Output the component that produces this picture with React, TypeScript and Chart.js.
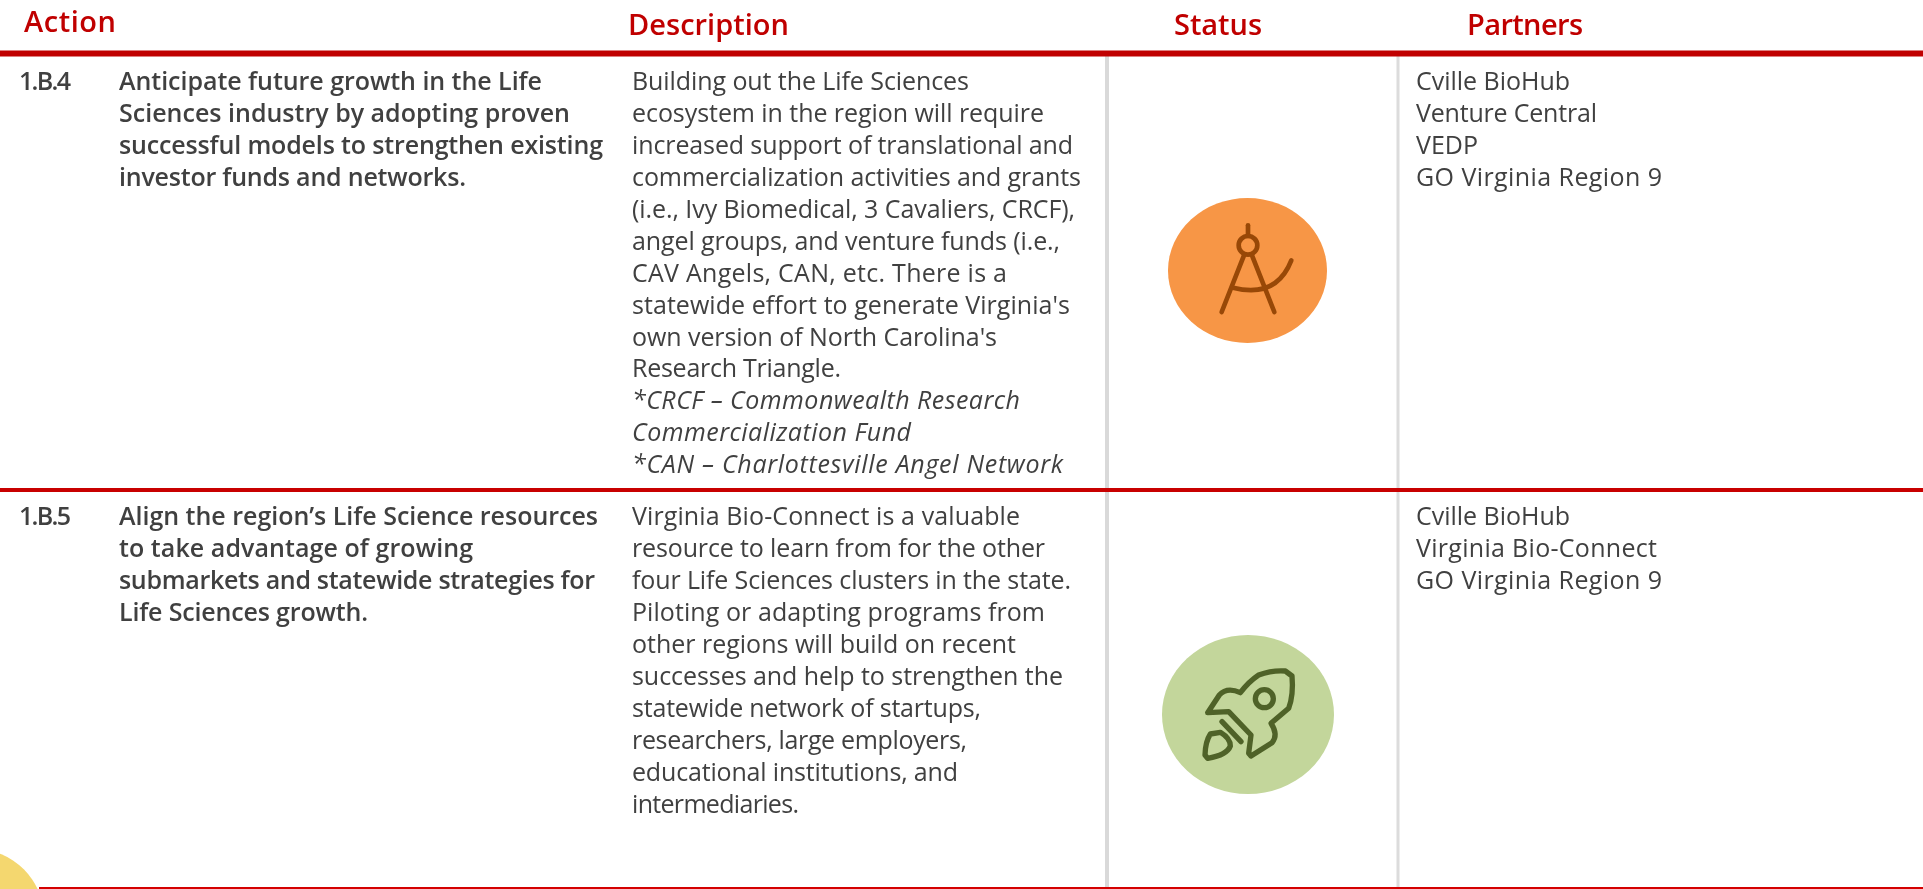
import React, { useEffect, useRef } from "react";
import { Chart, registerables } from "chart.js";

Chart.register(...registerables);

const W = 1923;
const H = 889;

const headers = ["Action", "Description", "Status", "Partners"];
const headerX = [24, 628, 1174, 1467];
const headerBaseline = [32, 34.5, 34.5, 34.5];
const headerWidths = [91, 160, 87, 115];

const codes = ["1.B.4", "1.B.5"];
const codeWidth = 51;
const actions = [
  [
    "Anticipate future growth in the Life",
    "Sciences industry by adopting proven",
    "successful models to strengthen existing",
    "investor funds and networks.",
  ],
  [
    "Align the region\u2019s Life Science resources",
    "to take advantage of growing",
    "submarkets and statewide strategies for",
    "Life Sciences growth.",
  ],
];
const actionWidths = [
  [422, 450, 483, 346],
  [478, 353, 475, 248],
];
const descriptions = [
  [
    "Building out the Life Sciences",
    "ecosystem in the region will require",
    "increased support of translational and",
    "commercialization activities and grants",
    "(i.e., Ivy Biomedical, 3 Cavaliers, CRCF),",
    "angel groups, and venture funds (i.e.,",
    "CAV Angels, CAN, etc. There is a",
    "statewide effort to generate Virginia's",
    "own version of North Carolina's",
    "Research Triangle.",
  ],
  [
    "Virginia Bio-Connect is a valuable",
    "resource to learn from for the other",
    "four Life Sciences clusters in the state.",
    "Piloting or adapting programs from",
    "other regions will build on recent",
    "successes and help to strengthen the",
    "statewide network of startups,",
    "researchers, large employers,",
    "educational institutions, and",
    "intermediaries.",
  ],
];
const descriptionWidths = [
  [336, 411, 440, 448, 442, 427, 374, 437, 364, 208],
  [387, 412, 438, 412, 383, 430, 348, 334, 325, 166],
];
const footnotes = [
  "*CRCF \u2013 Commonwealth Research",
  "Commercialization Fund",
  "*CAN \u2013 Charlottesville Angel Network",
];
const footnoteWidths = [387, 278, 430];
const partners = [
  ["Cville BioHub", "Venture Central", "VEDP", "GO Virginia Region 9"],
  ["Cville BioHub", "Virginia Bio-Connect", "GO Virginia Region 9"],
];
const partnerWidths = [
  [153, 180, 61, 245],
  [153, 240, 245],
];

const rowBaseline = [90, 525];
const rowGap = [31.94, 32.03];

function makeBadge(
  w: number,
  h: number,
  fill: string,
  stroke: string,
  icon: (c: CanvasRenderingContext2D) => void
) {
  const cv = document.createElement("canvas");
  cv.width = w;
  cv.height = h;
  const c = cv.getContext("2d")!;
  c.fillStyle = fill;
  c.beginPath();
  c.ellipse(w / 2, h / 2, w / 2, h / 2, 0, 0, Math.PI * 2);
  c.fill();
  c.strokeStyle = stroke;
  c.lineCap = "round";
  c.lineJoin = "round";
  icon(c);
  return cv;
}

function compassIcon(c: CanvasRenderingContext2D) {
  // crop coordinates (3x), origin at the ellipse's top-left corner
  c.save();
  c.scale(1 / 3, 1 / 3);
  c.translate(-205, -83);
  c.lineWidth = 14;
  c.beginPath();
  c.moveTo(445, 165);
  c.lineTo(445, 197);
  c.stroke();
  c.beginPath();
  c.arc(445, 225, 28, 0, Math.PI * 2);
  c.stroke();
  c.beginPath();
  c.moveTo(433, 255);
  c.lineTo(366, 425);
  c.moveTo(457, 255);
  c.lineTo(524, 425);
  c.stroke();
  c.beginPath();
  c.moveTo(400, 352);
  c.quadraticCurveTo(530, 385, 575, 270);
  c.stroke();
  c.restore();
}

function rocketIcon(c: CanvasRenderingContext2D) {
  c.save();
  c.scale(1 / 3, 1 / 3);
  c.translate(-125, -45);
  c.lineWidth = 16;
  c.beginPath();
  c.moveTo(262, 278);
  c.lineTo(297, 225);
  c.quadraticCurveTo(320, 200, 360, 218);
  c.quadraticCurveTo(385, 185, 415, 165);
  c.quadraticCurveTo(455, 150, 495, 153);
  c.lineTo(515, 168);
  c.quadraticCurveTo(520, 225, 505, 265);
  c.lineTo(452, 310);
  c.quadraticCurveTo(475, 345, 455, 368);
  c.lineTo(392, 408);
  c.lineTo(385, 400);
  c.lineTo(392, 345);
  c.lineTo(325, 275);
  c.closePath();
  c.stroke();
  c.beginPath();
  c.arc(432, 236, 27, 0, Math.PI * 2);
  c.stroke();
  c.beginPath();
  c.moveTo(305, 305);
  c.lineTo(362, 365);
  c.stroke();
  c.beginPath();
  c.moveTo(270, 342);
  c.lineTo(300, 337);
  c.quadraticCurveTo(330, 355, 330, 378);
  c.quadraticCurveTo(320, 405, 262, 415);
  c.lineTo(254, 405);
  c.quadraticCurveTo(255, 365, 270, 342);
  c.closePath();
  c.stroke();
  c.restore();
}

const BODY_FONT = '"Open Sans"';

const tablePlugin = {
  id: "tableText",
  afterDatasetsDraw(chart: any) {
    const { ctx, scales } = chart;
    const px = (v: number) => scales.x.getPixelForValue(v);
    const py = (v: number) => scales.y.getPixelForValue(v);
    // fit each line to the width it has in the reference
    const put = (t: string, x: number, y: number, font: string, color: string, width: number) => {
      ctx.font = font;
      ctx.fillStyle = color;
      (ctx as any).letterSpacing = "0px";
      const natural = ctx.measureText(t).width;
      const sp = (width + 1 - natural) / Math.max(1, t.length - 1);
      (ctx as any).letterSpacing = `${sp.toFixed(3)}px`;
      ctx.fillText(t, px(x), py(y));
    };
    ctx.save();
    ctx.textAlign = "left";
    ctx.textBaseline = "alphabetic";
    headers.forEach((t, i) =>
      put(t, headerX[i], headerBaseline[i], `600 29px ${BODY_FONT}`, "#C00000", headerWidths[i])
    );
    const ink = "#404040";
    const semi = `600 25px ${BODY_FONT}`;
    const reg = `400 25px ${BODY_FONT}`;
    const ital = `italic 400 25px ${BODY_FONT}`;
    rowBaseline.forEach((y0, r) => {
      const g = rowGap[r];
      put(codes[r], 19, y0, semi, ink, codeWidth);
      actions[r].forEach((t, i) => put(t, 119, y0 + i * g, semi, ink, actionWidths[r][i]));
      descriptions[r].forEach((t, i) => put(t, 632, y0 + i * g, reg, ink, descriptionWidths[r][i]));
      partners[r].forEach((t, i) => put(t, 1416, y0 + i * g, reg, ink, partnerWidths[r][i]));
    });
    footnotes.forEach((t, i) =>
      put(
        t,
        632,
        rowBaseline[0] + (descriptions[0].length + i) * rowGap[0],
        ital,
        ink,
        footnoteWidths[i]
      )
    );
    ctx.restore();
  },
};

export default function App() {
  const ref = useRef<HTMLCanvasElement>(null);
  useEffect(() => {
    document.body.style.margin = "0";
    document.body.style.background = "#fff";
    const badgeA = makeBadge(159, 145, "#F79646", "#984807", compassIcon);
    const badgeB = makeBadge(172, 159, "#C3D69B", "#4F6228", rocketIcon);
    const rule = (pts: number[][], color: string, width: number) => ({
      data: pts.map(([x, y]) => ({ x, y })),
      showLine: true,
      borderColor: color,
      borderWidth: width,
      pointRadius: 0,
      clip: false,
      fill: false,
    });
    const chart = new Chart(ref.current!, {
      type: "scatter",
      plugins: [tablePlugin],
      data: {
        datasets: [
          rule([[0, 53.5], [W, 53.5]], "#C00000", 6),
          rule([[0, 490], [W, 490]], "#C80000", 4),
          rule([[39, 888], [W, 888]], "#D40000", 2),
          rule([[1107, 56], [1107, H]], "#D9D9D9", 4),
          rule([[1398, 56], [1398, H]], "#DCDCDC", 3),
          {
            data: [{ x: 1247.5, y: 270.5 }],
            pointStyle: badgeA as any,
            pointRadius: 70,
            clip: false,
          },
          {
            data: [{ x: 1248, y: 714.5 }],
            pointStyle: badgeB as any,
            pointRadius: 70,
            clip: false,
          },
          {
            data: [{ x: -25, y: 918 }],
            pointStyle: "circle",
            pointRadius: 69,
            pointBackgroundColor: "#F4D76F",
            pointBorderWidth: 0,
            clip: false,
          },
        ],
      },
      options: {
        animation: false,
        responsive: false,
        layout: { padding: 0, autoPadding: false },
        plugins: { legend: { display: false }, tooltip: { enabled: false } },
        events: [],
        scales: {
          x: { type: "linear", display: false, min: 0, max: W },
          y: { type: "linear", display: false, reverse: true, min: 0, max: H },
        },
      },
    });
    return () => chart.destroy();
  }, []);
  return <canvas ref={ref} width={W} height={H} style={{ display: "block" }} />;
}
